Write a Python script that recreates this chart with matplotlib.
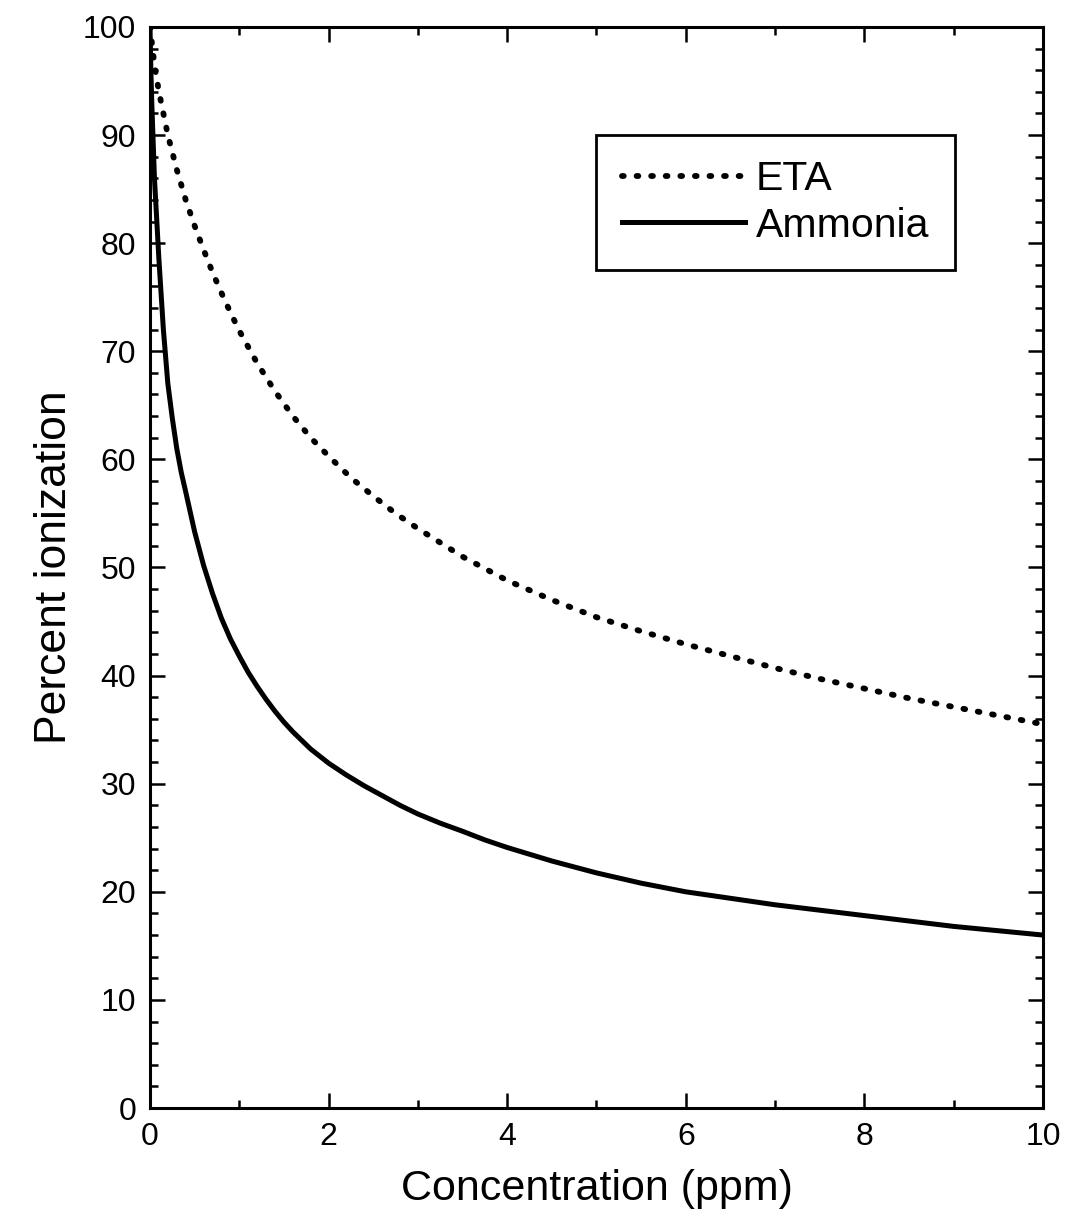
import numpy as np
import matplotlib.pyplot as plt
from matplotlib.ticker import MultipleLocator

plt.rcParams['font.family'] = ['Liberation Sans', 'DejaVu Sans']

# ETA (dotted)
eta_x = [0, 0.05, 0.1, 0.2, 0.3, 0.4, 0.5, 0.6, 0.7, 0.8, 0.9, 1.0, 1.2, 1.4, 1.6, 1.8,
         2.0, 2.25, 2.5, 2.75, 3.0, 3.5, 4.0, 4.5, 5.0, 5.5, 6.0, 6.5, 7.0, 7.5, 8.0,
         8.5, 9.0, 9.5, 10.0]
eta_y = [100, 96.5, 94, 90, 86.8, 84.0, 81.6, 79.4, 77.3, 75.4, 73.6, 71.9, 68.9, 66.3,
         64.0, 62.0, 60.3, 58.3, 56.6, 55.0, 53.6, 51.0, 48.8, 47.0, 45.4, 44.1, 42.9,
         41.8, 40.7, 39.7, 38.8, 37.9, 37.1, 36.3, 35.5]

# Ammonia (solid)
amm_x = [0, 0.01, 0.02, 0.05, 0.1, 0.15, 0.2, 0.25, 0.3, 0.35, 0.4, 0.5, 0.6, 0.7, 0.8,
         0.9, 1.0, 1.1, 1.2, 1.3, 1.4, 1.5, 1.6, 1.8, 2.0, 2.2, 2.4, 2.6, 2.8, 3.0,
         3.25, 3.5, 3.75, 4.0, 4.5, 5.0, 5.5, 6.0, 6.5, 7.0, 7.5, 8.0, 8.5, 9.0, 9.5,
         10.0]
amm_y = [100, 96, 93, 86, 78.5, 72, 67, 63.8, 61, 58.8, 57, 53.3, 50.2, 47.6, 45.3,
         43.4, 41.8, 40.3, 39.0, 37.8, 36.7, 35.7, 34.8, 33.2, 31.9, 30.8, 29.8, 28.9,
         28.0, 27.2, 26.35, 25.6, 24.8, 24.1, 22.85, 21.75, 20.8, 20.0, 19.4, 18.8, 18.3,
         17.8, 17.3, 16.8, 16.4, 16.0]

fig = plt.figure(figsize=(10.66, 12.23), dpi=100)
ax = fig.add_axes([0.1407, 0.094, 0.8377, 0.884])

ax.plot(eta_x, eta_y, color="black", lw=4.2, linestyle=(0, (0.3, 2.2)),
        dash_capstyle="round", label="ETA")
ax.plot(amm_x, amm_y, color="black", lw=3.6, solid_joinstyle="round", label="Ammonia")

ax.set_xlim(0, 10)
ax.set_ylim(0, 100)
ax.xaxis.set_major_locator(MultipleLocator(2))
ax.xaxis.set_minor_locator(MultipleLocator(1))
ax.yaxis.set_major_locator(MultipleLocator(10))
ax.yaxis.set_minor_locator(MultipleLocator(2))
ax.tick_params(which="both", direction="in", top=True, right=True, width=1.8,
               labelsize=23, pad=10)
ax.tick_params(which="major", length=11)
ax.tick_params(which="minor", length=6)
for s in ax.spines.values():
    s.set_linewidth(2.2)

ax.set_xlabel("Concentration (ppm)", fontsize=31, labelpad=12)
ax.set_ylabel("Percent ionization", fontsize=32, labelpad=6)

leg = ax.legend(loc="upper right", bbox_to_anchor=(0.901, 0.9), fontsize=29.5,
                frameon=True, fancybox=False, edgecolor="black", framealpha=1,
                handlelength=3.0, handletextpad=0.27, borderpad=0.62,
                labelspacing=0.2, borderaxespad=0)
leg.get_frame().set_linewidth(2)

fig.savefig("out.png", dpi=100)
